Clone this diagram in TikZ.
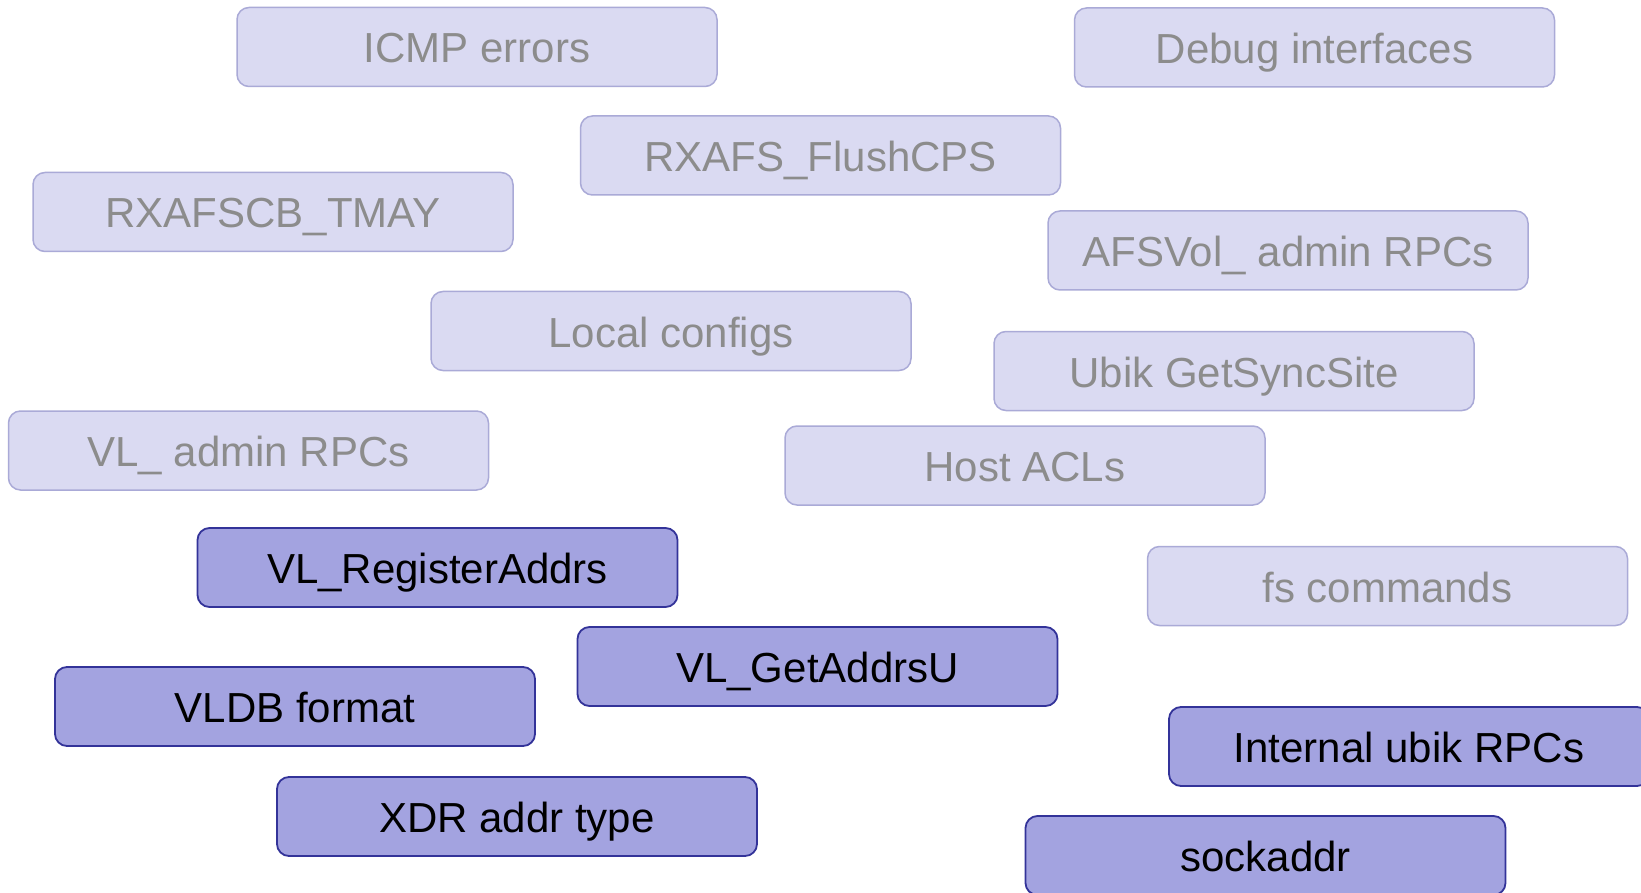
\documentclass[tikz,border=0pt]{standalone}
\usepackage{fontspec}
\setmainfont{Liberation Sans}
\definecolor{lightfill}{RGB}{218,218,242}
\definecolor{lightdraw}{RGB}{170,170,215}
\definecolor{lighttext}{RGB}{140,140,140}
\definecolor{darkfill}{RGB}{163,163,224}
\definecolor{darkdraw}{RGB}{51,51,153}
\tikzset{
  base/.style={rectangle, rounded corners=12pt, minimum width=480pt, minimum height=79pt,
    inner sep=0pt, text height=38pt, text depth=6pt, font=\fontsize{42}{50}\selectfont},
  faded/.style={base, fill=lightfill, draw=lightdraw, line width=1.5pt, text=lighttext},
  active/.style={base, fill=darkfill, draw=darkdraw, line width=1.8pt, text=black},
}
\begin{document}
\begin{tikzpicture}[x=1pt,y=-1pt]
\useasboundingbox (0,0) rectangle (1641,893);
\clip (0,0) rectangle (1641,893);
\fill[white] (0,0) rectangle (1641,893);
\node[faded] (icmp) at (477,47) {ICMP errors};
\node[faded] (debug) at (1314.5,47.5) {Debug interfaces};
\node[faded] (flush) at (820.5,155.5) {RXAFS\_FlushCPS};
\node[faded] (tmay) at (273,212) {RXAFSCB\_TMAY};
\node[faded] (afsvol) at (1288,250.5) {AFSVol\_ admin RPCs};
\node[faded] (local) at (671,331) {Local configs};
\node[faded] (ubiksync) at (1234,371) {Ubik GetSyncSite};
\node[faded] (vladmin) at (248.5,450.5) {VL\_ admin RPCs};
\node[faded] (hostacl) at (1025,465.5) {Host ACLs};
\node[active] (register) at (437.5,567.5) {VL\_RegisterAddrs};
\node[faded] (fs) at (1387.5,586) {fs commands};
\node[active] (getaddrs) at (817.5,666.5) {VL\_GetAddrsU};
\node[active] (vldb) at (295,706.5) {VLDB format};
\node[active] (ubikint) at (1409,746.5) {Internal ubik RPCs};
\node[active] (xdr) at (517,816.5) {XDR addr type};
\node[active] (sockaddr) at (1265.5,855.5) {sockaddr};
\end{tikzpicture}
\end{document}
